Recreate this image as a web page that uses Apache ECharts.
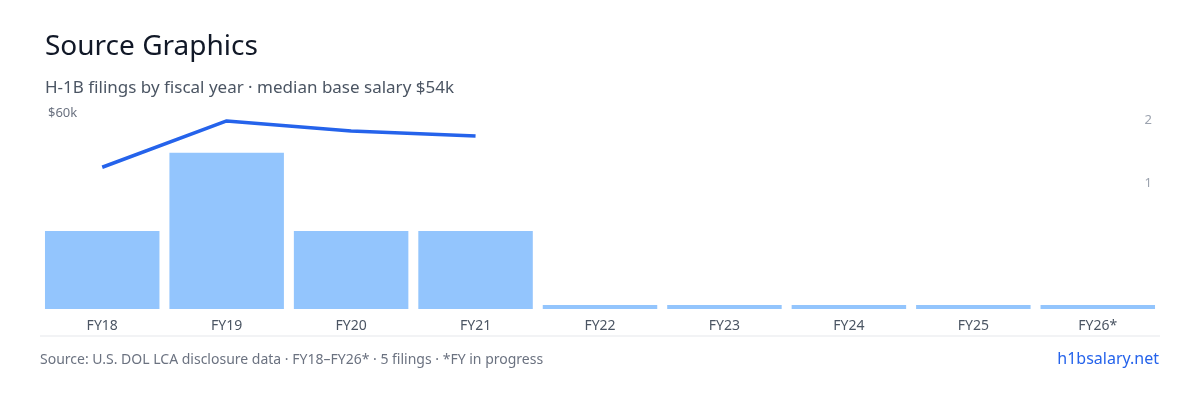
<!DOCTYPE html><html><head><meta charset="utf-8"><script src="https://cdn.jsdelivr.net/npm/echarts@6/dist/echarts.min.js"></script><style>body{margin:0}#c{width:1200px;height:400px}</style></head><body><div id="c"></div><script>
const categories=['FY18','FY19','FY20','FY21','FY22','FY23','FY24','FY25','FY26*'];
const filings=[1,2,1,1,0,0,0,0,0];
const salary=[45000,59700,56500,54900,null,null,null,null,null];
const ch=echarts.init(document.getElementById('c'));
const F='Noto Sans';
ch.setOption({
 textStyle:{fontFamily:F},
 title:[{text:'Source Graphics',left:40,top:28,textStyle:{fontSize:28,fontWeight:'normal',color:'#111827',fontFamily:F}},
  {text:'H-1B filings by fiscal year · median base salary $54k',left:40,top:75,textStyle:{fontSize:17,fontWeight:'normal',color:'#4b5563',fontFamily:F}}],
 graphic:[{type:'line',shape:{x1:40,y1:336,x2:1160,y2:336},style:{stroke:'#e5e7eb',lineWidth:1}},
  {type:'text',left:40,top:353,style:{text:'Source: U.S. DOL LCA disclosure data · FY18–FY26* · 5 filings · *FY in progress',fill:'#6b7280',font:'14px Noto Sans'}},
  {type:'text',right:41,top:351,style:{text:'h1bsalary.net',fill:'#2563eb',font:'16px Noto Sans'}}],
 grid:{left:40,right:40,top:120,bottom:91},
 xAxis:{type:'category',data:categories,axisLine:{show:false},axisTick:{show:false},axisLabel:{color:'#4b5563',fontSize:14,margin:10}},
 yAxis:[
  {type:'value',min:0,max:60000,interval:60000,splitLine:{show:false},axisLabel:{inside:true,verticalAlign:'bottom',color:'#6b7280',fontSize:13,formatter:v=>v===60000?'$60k':''}},
  {type:'value',min:0,max:2.42,show:false,splitLine:{show:false}},
  {type:'value',min:-1,max:2,interval:1,position:'right',splitLine:{show:false},axisLabel:{inside:true,color:'#9ca3af',fontSize:13,formatter:v=>v>0?String(v):''}}
 ],
 series:[
  {type:'bar',yAxisIndex:1,data:filings,barCategoryGap:'8%',barMinHeight:4,itemStyle:{color:'#93c5fd'},silent:true},
  {type:'line',yAxisIndex:0,data:salary,symbol:'none',lineStyle:{color:'#2563eb',width:3.5},silent:true}
 ]
});
</script></body></html>
